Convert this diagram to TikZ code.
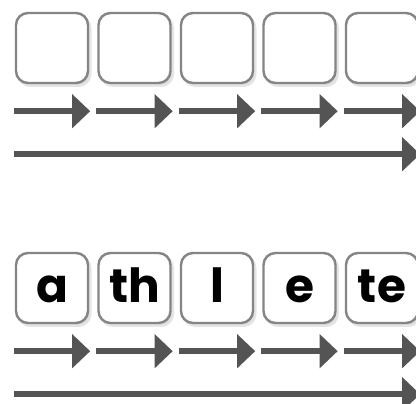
\documentclass[tikz,border=0pt]{standalone}
\usepackage{fontspec}
\setmainfont{Poppins}
\usetikzlibrary{arrows.meta}
\begin{document}
\begin{tikzpicture}[x=1pt,y=1pt,
  tile/.style={draw=black!48, line width=2.4pt, fill=white, rounded corners=12pt,
    minimum width=72pt, minimum height=70pt, inner sep=0pt,
    preaction={fill=black!13, draw=black!10, line width=2pt, transform canvas={xshift=2.5pt,yshift=-3pt}}},
  lbl/.style={anchor=base, inner sep=0pt, font=\fontsize{47}{56}\selectfont\bfseries, text=black},
  arr/.style={draw=black!67, line width=6pt, -{Triangle[length=18pt,width=33pt]}}
]
\useasboundingbox (0,0) rectangle (416,404);
\fill[white] (0,0) rectangle (416,404);
% top row
\foreach \i in {1,...,5} {
  \node[tile] (t\i) at ({52+82.5*(\i-1)},356) {};
  \draw[arr] ([xshift=-1pt,yshift=-27pt]t\i.south west) -- ([xshift=1pt,yshift=-27pt]t\i.south east);
}
\draw[arr] ([xshift=-1pt,yshift=-70pt]t1.south west) -- ([xshift=1pt,yshift=-70pt]t5.south east);
% bottom row
\foreach \i in {1,...,5} {
  \node[tile] (b\i) at ({52+82.5*(\i-1)},116) {};
  \draw[arr] ([xshift=-1pt,yshift=-27pt]b\i.south west) -- ([xshift=1pt,yshift=-27pt]b\i.south east);
}
\draw[arr] ([xshift=-1pt,yshift=-70pt]b1.south west) -- ([xshift=1pt,yshift=-70pt]b5.south east);
\node[lbl] (l1) at (52,101) {a};
\node[lbl] (l2) at (134.5,101) {th};
\node[lbl] (l3) at (217,101) {l};
\node[lbl] (l4) at (299.5,101) {e};
\node[lbl] (l5) at (382,101) {te};
\end{tikzpicture}
\end{document}
